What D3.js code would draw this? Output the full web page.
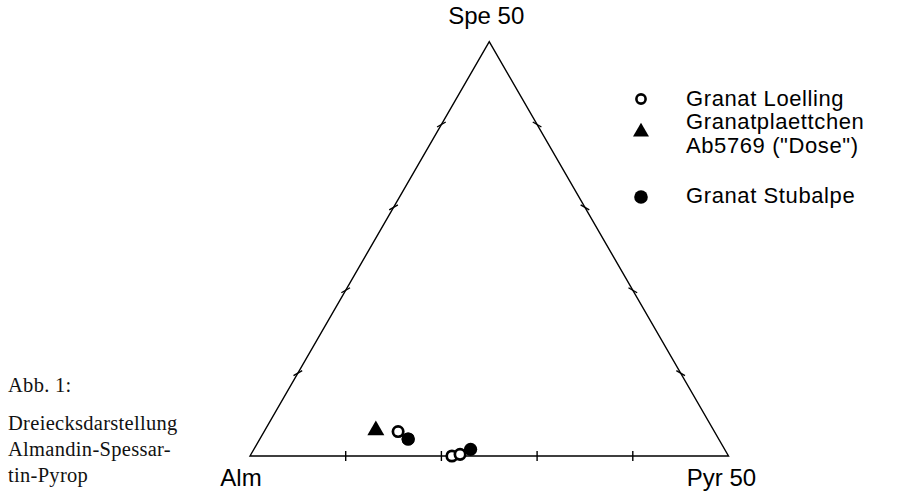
<!DOCTYPE html>
<html><head><meta charset="utf-8">
<script src="https://cdn.jsdelivr.net/npm/d3@7"></script>
<style>
html,body{margin:0;padding:0;background:#fff;}
svg{display:block;}
</style></head>
<body>
<svg id="chart" width="897" height="493"></svg>
<script>
// ---- data (ternary: Spe % and Pyr %, Alm = remainder; apex = Spe 50, right = Pyr 50)
const vertexLabels = ["Alm", "Spe 50", "Pyr 50"];
const tickValues = [10, 20, 30, 40];
const loellingSpe = [2.95, 0.0, 0.2];
const loellingPyr = [14.0, 21.1, 21.85];
const doseSpe = [3.1];
const dosePyr = [11.6];
const stubalpeSpe = [2.05, 0.8];
const stubalpePyr = [15.5, 22.65];
const legendLabels = [["Granat Loelling"], ["Granatplaettchen", "Ab5769 (\"Dose\")"], ["Granat Stubalpe"]];
const captionLines = ["Abb. 1:", "Dreiecksdarstellung", "Almandin-Spessar-", "tin-Pyrop"];

// ---- geometry via scales
const alm = {x: 250, y: 456};
const side = 478.5;
const h = side * Math.sqrt(3) / 2;
const pyrScale = d3.scaleLinear().domain([0, 50]).range([0, side]);       // along base
const speXScale = d3.scaleLinear().domain([0, 50]).range([0, side / 2]);  // horizontal shift
const speYScale = d3.scaleLinear().domain([0, 50]).range([0, h]);         // vertical rise
function proj(spe, pyr) {
  return [alm.x + pyrScale(pyr) + speXScale(spe), alm.y - speYScale(spe)];
}
const A = proj(0, 0), S = proj(50, 0), P = proj(0, 50);

const svg = d3.select("#chart");
const g = svg.append("g");

// triangle
g.append("path")
  .attr("d", d3.line()([A, S, P]) + "Z")
  .attr("fill", "none").attr("stroke", "#000").attr("stroke-width", 1.4)
  .attr("stroke-linejoin", "miter");

// ticks (perpendicular to each edge, crossing it)
const tl = 5;
function edgeTicks(fn, ang) {
  tickValues.forEach(v => {
    const [x, y] = fn(v);
    const dx = Math.cos(ang) * tl, dy = Math.sin(ang) * tl;
    g.append("line").attr("x1", x - dx).attr("y1", y - dy).attr("x2", x + dx).attr("y2", y + dy)
      .attr("stroke", "#000").attr("stroke-width", 1.4);
  });
}
edgeTicks(v => proj(0, v), Math.PI / 2);                 // base: vertical ticks
edgeTicks(v => proj(v, 0), -Math.PI / 6);                 // left edge
edgeTicks(v => proj(v, 50 - v), Math.PI / 6 + Math.PI);   // right edge

// vertex labels
const lf = "'Liberation Sans', Arial, Helvetica, sans-serif";
g.append("text").attr("x", A[0] - 9).attr("y", A[1] + 30).attr("text-anchor", "middle")
  .attr("font-family", lf).attr("font-size", 24).text(vertexLabels[0]);
g.append("text").attr("x", S[0] - 3).attr("y", 24).attr("text-anchor", "middle")
  .attr("font-family", lf).attr("font-size", 24).text(vertexLabels[1]);
g.append("text").attr("x", P[0] - 7).attr("y", P[1] + 30).attr("text-anchor", "middle")
  .attr("font-family", lf).attr("font-size", 24).text(vertexLabels[2]);

// data marks
const tri = d3.symbol().type(d3.symbolTriangle);
const pts = g.append("g");
doseSpe.forEach((s, i) => {
  const [x, y] = proj(s, dosePyr[i]);
  pts.append("path").attr("d", tri.size(125)()).attr("transform", `translate(${x},${y})`).attr("fill", "#000");
});
stubalpeSpe.forEach((s, i) => {
  const [x, y] = proj(s, stubalpePyr[i]);
  pts.append("circle").attr("cx", x).attr("cy", y).attr("r", 6.6).attr("fill", "#000");
});
loellingSpe.forEach((s, i) => {
  const [x, y] = proj(s, loellingPyr[i]);
  pts.append("circle").attr("cx", x).attr("cy", y).attr("r", 5.2).attr("fill", "#fff")
    .attr("stroke", "#000").attr("stroke-width", 2.7);
});
// first Stubalpe filled circle lies on top of the neighbouring open circle
{
  const [x, y] = proj(stubalpeSpe[0], stubalpePyr[0]);
  pts.append("circle").attr("cx", x).attr("cy", y).attr("r", 6.6).attr("fill", "#000");
}

// legend
const lg = svg.append("g");
const legX = 641, textX = 686;
lg.append("circle").attr("cx", legX).attr("cy", 99).attr("r", 4.6).attr("fill", "#fff").attr("stroke", "#000").attr("stroke-width", 2.6);
lg.append("path").attr("d", tri.size(110)()).attr("transform", `translate(${legX},132)`).attr("fill", "#000");
lg.append("circle").attr("cx", legX).attr("cy", 197).attr("r", 6.8).attr("fill", "#000");
const legBase = [[106], [129, 153], [203]];
legendLabels.forEach((lines, i) => {
  lines.forEach((t, j) => {
    lg.append("text").attr("x", textX).attr("y", legBase[i][j])
      .attr("font-family", lf).attr("font-size", 22).attr("letter-spacing", 0.6).text(t);
  });
});

// caption
const cf = "'Liberation Serif', 'Times New Roman', serif";
const capY = [392, 430, 456, 482];
captionLines.forEach((t, i) => {
  svg.append("text").attr("x", 8).attr("y", capY[i]).attr("font-family", cf).attr("font-size", 20.5)
    .attr("letter-spacing", 0.3).attr("fill", "#111").text(t);
});
</script>
</body></html>
